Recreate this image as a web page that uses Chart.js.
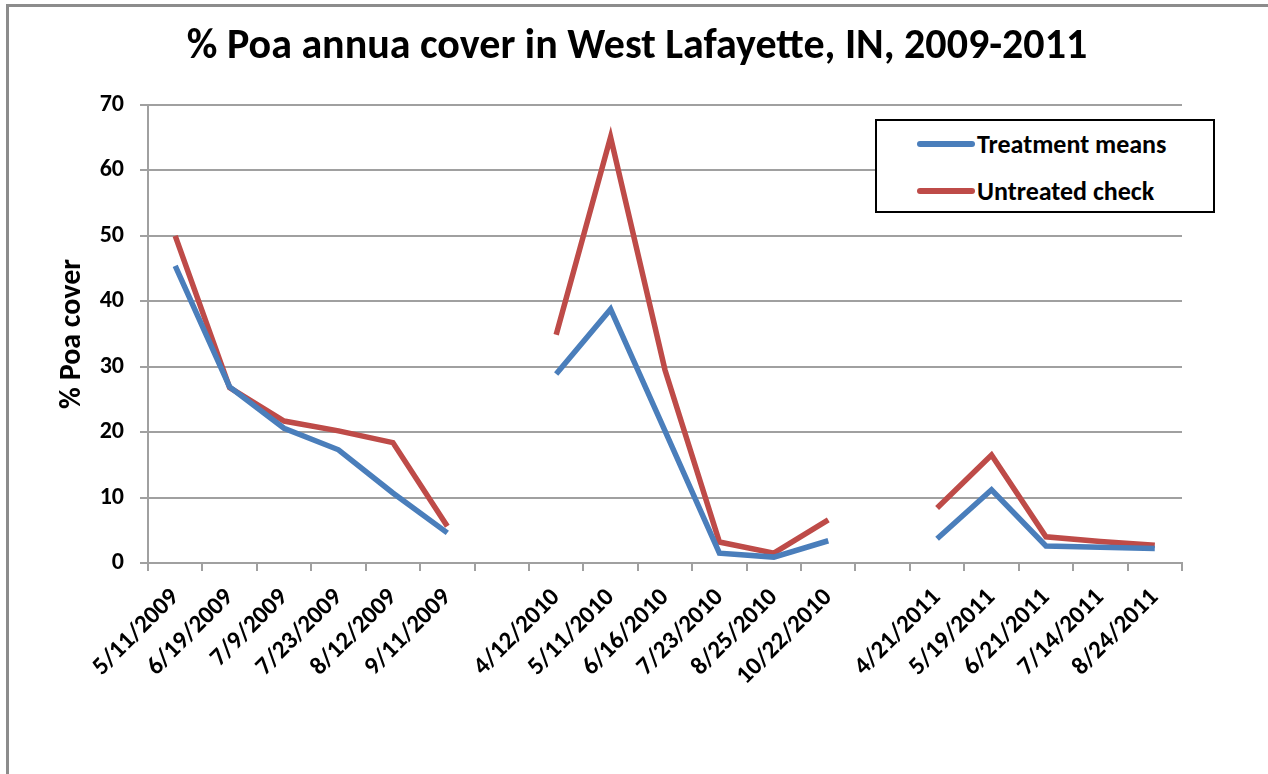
<!DOCTYPE html>
<html>
<head>
<meta charset="utf-8">
<script src="https://cdn.jsdelivr.net/npm/chart.js@4.4.1/dist/chart.umd.min.js"></script>
<style>
    body { margin: 0; width: 1268px; height: 774px; overflow: hidden; background: #fff; font-family: Carlito, Lato, sans-serif; }
    #frame { position: absolute; left: 6px; top: 4px; width: 1300px; height: 800px; border-left: 3px solid #8c8c8c; border-top: 3px solid #8c8c8c; }
    #titulo { position: absolute; left: 0; width: 1274px; top: 18px; text-align: center; font-size: 42px; font-weight: bold; color: #000; }
    #box { position: absolute; left: 0; top: 0; width: 1268px; height: 774px; }
    #legenda { position: absolute; left: 875px; top: 119px; width: 336px; height: 90px; border: 2px solid #000; background: #fff; }
    .item { position: absolute; left: 40px; font-size: 26px; font-weight: bold; color: #000; display: flex; align-items: center; line-height: 30px; }
    .item span.linha { display: inline-block; width: 58px; height: 6px; border-radius: 3px; margin-right: 2px; }
</style>
</head>
<body>
<div id="frame"></div>
<div id="box"><canvas id="grafico" width="1268" height="774"></canvas></div>
<div id="titulo">% Poa annua cover in West Lafayette, IN, 2009-2011</div>
<div id="legenda">
    <div class="item" style="top: 8px"><span class="linha" style="background:#4a7ebb"></span>Treatment means</div>
    <div class="item" style="top: 55px"><span class="linha" style="background:#be4b48"></span>Untreated check</div>
</div>
<script>
// datas das avaliações (uma categoria vazia entre os anos)
const datas = ['5/11/2009', '6/19/2009', '7/9/2009', '7/23/2009', '8/12/2009', '9/11/2009', '',
    '4/12/2010', '5/11/2010', '6/16/2010', '7/23/2010', '8/25/2010', '10/22/2010', '',
    '4/21/2011', '5/19/2011', '6/21/2011', '7/14/2011', '8/24/2011'];

// % de cobertura
const mediasTratamento = [45.4, 26.9, 20.6, 17.3, 10.7, 4.6, null,
    28.9, 38.8, 20.2, 1.5, 0.9, 3.4, null,
    3.7, 11.2, 2.6, 2.4, 2.2];
const testemunha = [50, 26.8, 21.7, 20.2, 18.4, 5.6, null,
    34.9, 65.1, 29.5, 3.2, 1.5, 6.6, null,
    8.4, 16.5, 4.0, 3.3, 2.7];

const azul = '#4a7ebb';
const vermelho = '#be4b48';
const cinza = '#a0a0a0';
const fonte = 'Carlito, Lato, sans-serif';

Chart.defaults.font.family = fonte;
Chart.defaults.color = '#000';

const ctx = document.getElementById('grafico').getContext('2d');
const grafico = new Chart(ctx, {
    type: 'line',
    data: {
        labels: datas,
        datasets: [{
            label: 'Treatment means',
            data: mediasTratamento,
            borderColor: azul,
            backgroundColor: azul,
            borderWidth: 5.5,
            pointRadius: 0,
            tension: 0,
            spanGaps: false
        }, {
            label: 'Untreated check',
            data: testemunha,
            borderColor: vermelho,
            backgroundColor: vermelho,
            borderWidth: 5.5,
            pointRadius: 0,
            tension: 0,
            spanGaps: false
        }]
    },
    options: {
        responsive: false,
        animation: false,
        layout: {
            padding: { left: 0, top: 105, right: 86, bottom: 61 }
        },
        scales: {
            x: {
                offset: true,
                grid: {
                    offset: true,
                    drawOnChartArea: false,
                    tickLength: 8,
                    color: cinza,
                    lineWidth: 2
                },
                border: { color: cinza, width: 2 },
                ticks: {
                    autoSkip: false,
                    maxRotation: 45,
                    minRotation: 45,
                    padding: 12,
                    font: { size: 25, weight: 'bold' }
                },
                afterFit: function (scale) { scale.height = 150; }
            },
            y: {
                min: 0,
                max: 70,
                ticks: {
                    stepSize: 10,
                    padding: 16,
                    font: { size: 24, weight: 'bold' }
                },
                grid: {
                    color: cinza,
                    lineWidth: 2,
                    tickLength: 8
                },
                border: { color: cinza, width: 2 },
                title: {
                    display: true,
                    text: '% Poa cover',
                    padding: { top: 54, bottom: 0 },
                    font: { size: 30, weight: 'bold' }
                },
                afterFit: function (scale) { scale.width = 148; }
            }
        },
        plugins: {
            legend: { display: false },
            tooltip: { enabled: false }
        }
    }
});
</script>
</body>
</html>
